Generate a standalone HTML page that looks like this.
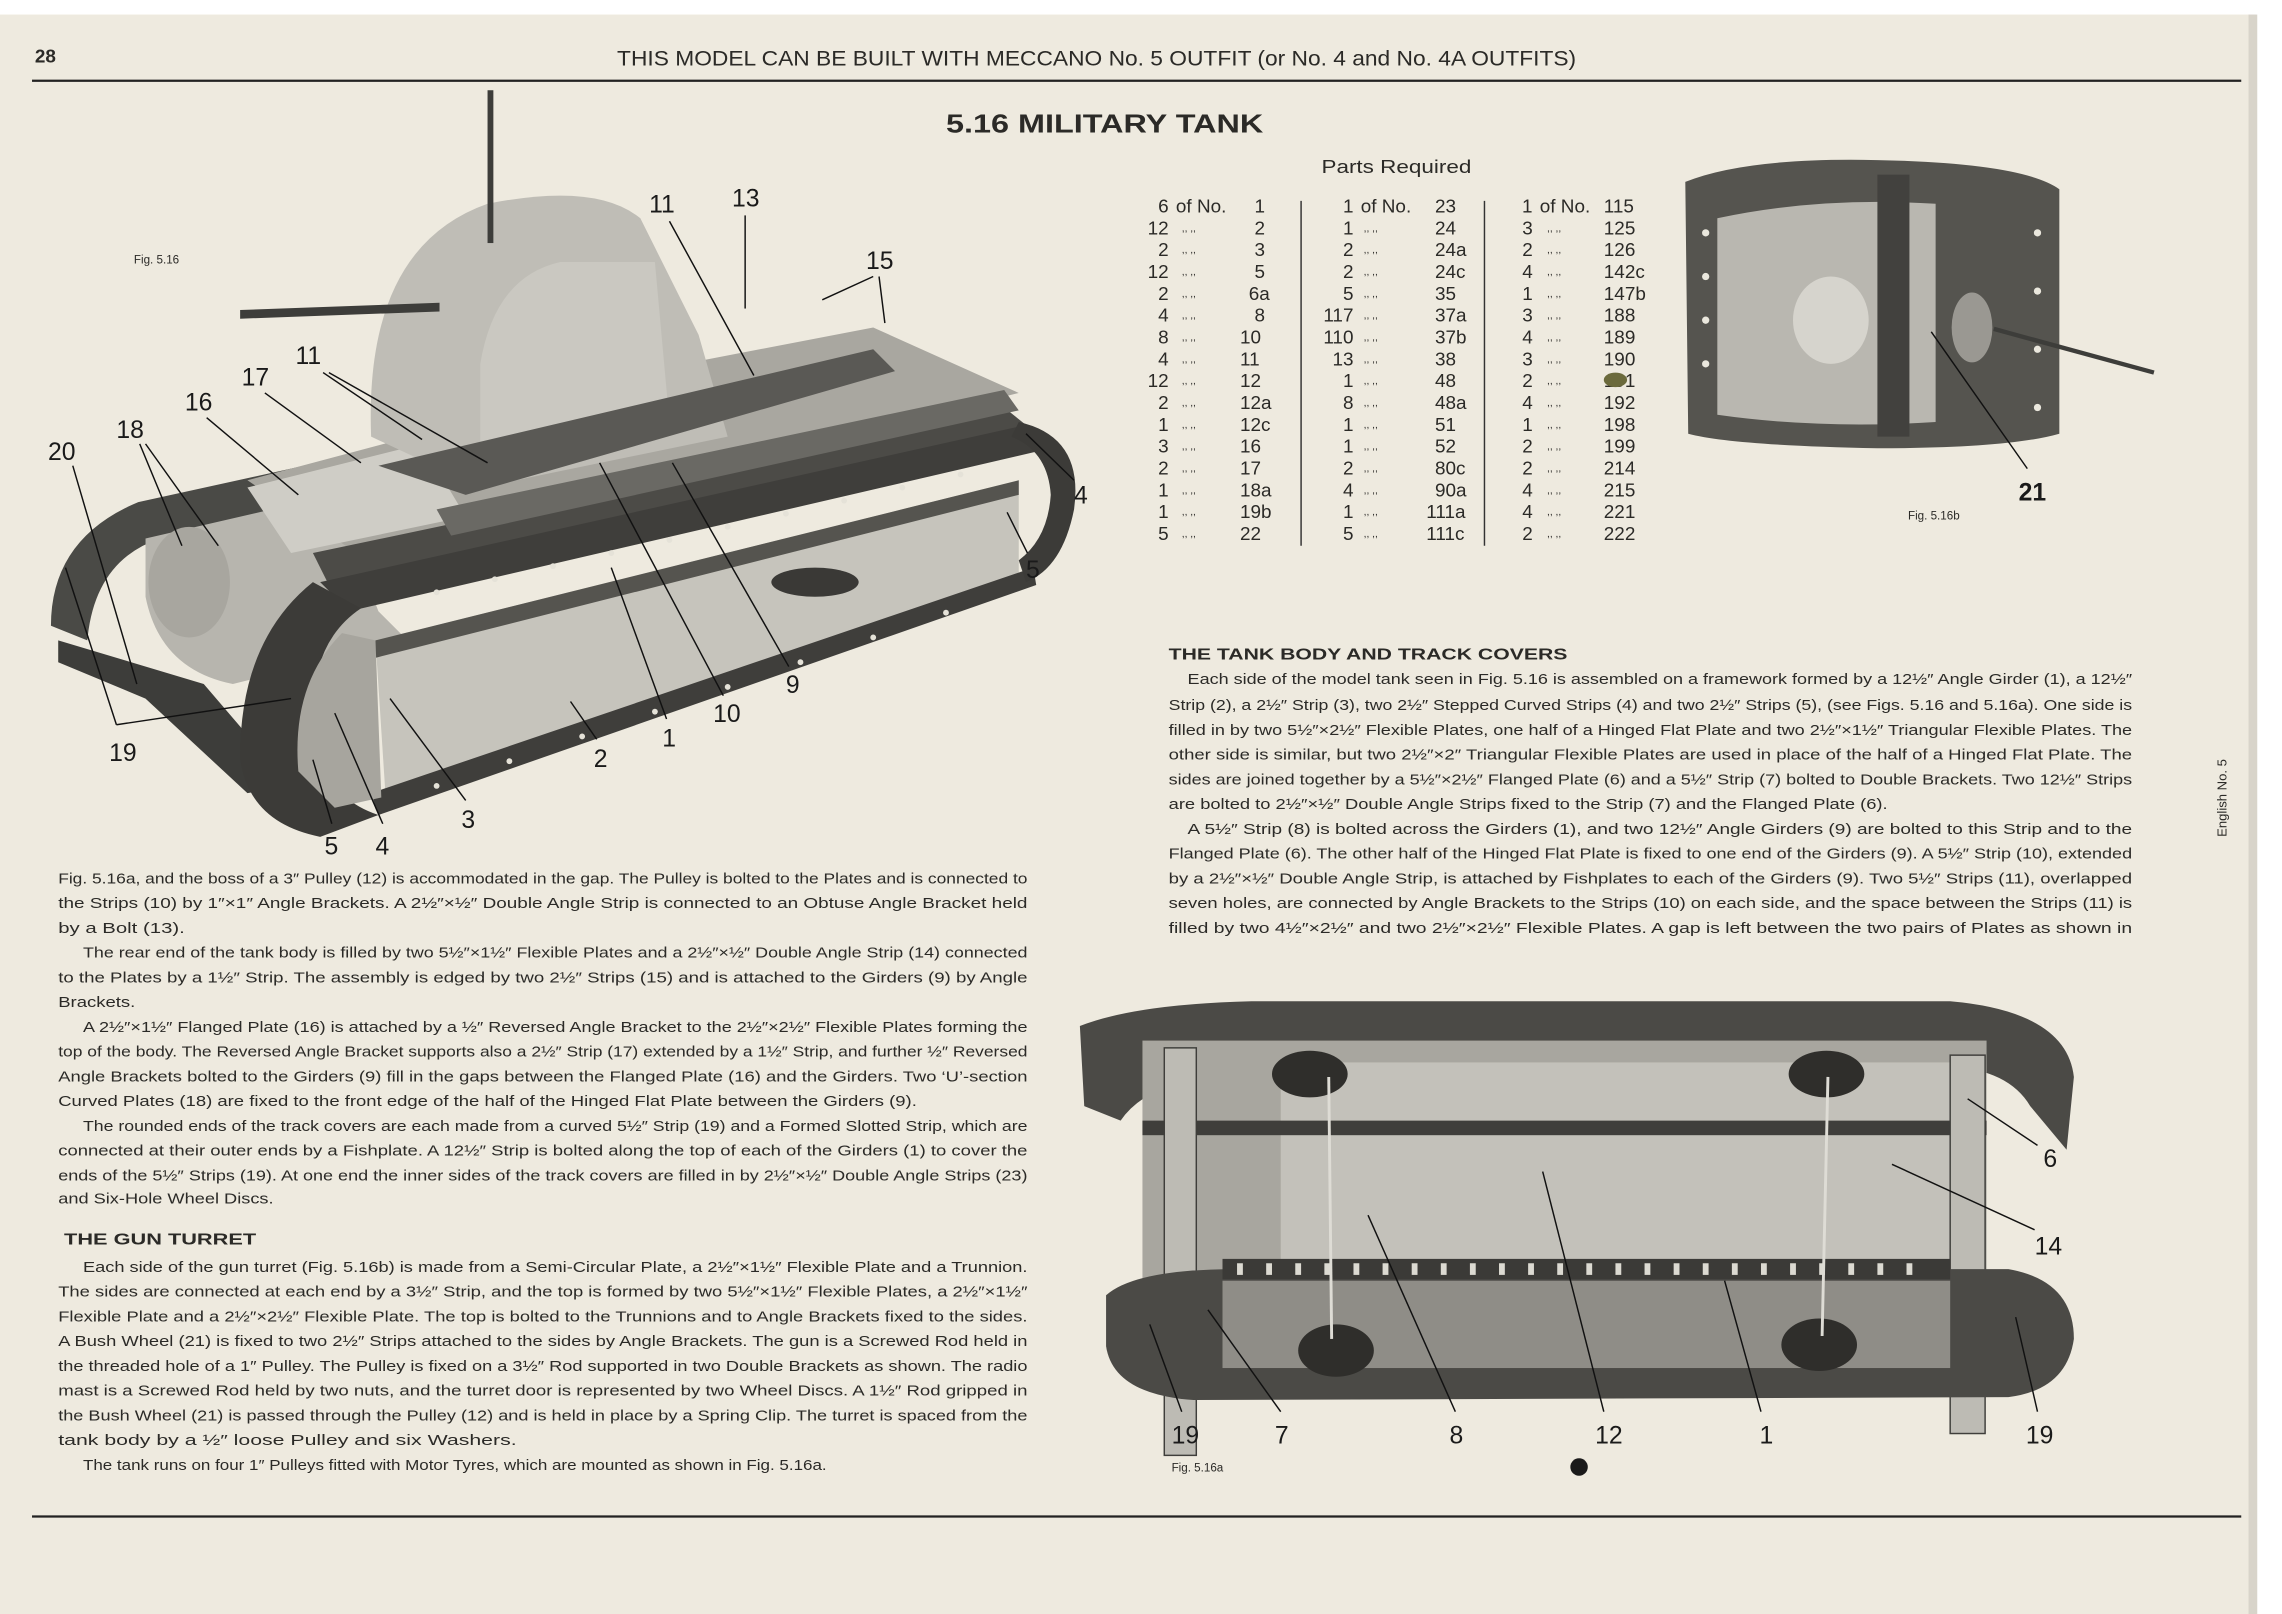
<!DOCTYPE html>
<html><head><meta charset="utf-8"><style>
html,body{margin:0;padding:0;background:#fff}
svg{display:block}
text{font-family:"Liberation Sans",sans-serif;fill:#2b2a27}
.t{font-size:10.2px}
.b{font-weight:bold}
.p{font-size:13px}
.n{font-size:17px;fill:#1a1a1a}
</style></head><body>
<svg width="2282" height="1614" viewBox="0 0 1568 1109" xmlns="http://www.w3.org/2000/svg">
<rect x="0" y="0" width="1568" height="1109" fill="#ffffff"/>
<rect x="0" y="10" width="1550" height="1099" fill="#eeeadf"/>
<rect x="1545" y="10" width="6" height="1099" fill="#d8d4ca"/>
<!-- header -->
<text x="24" y="43" class="b" style="font-size:13px">28</text>
<text x="424" y="45" style="font-size:14.5px" textLength="659" lengthAdjust="spacingAndGlyphs">THIS MODEL CAN BE BUILT WITH MECCANO No. 5 OUTFIT (or No. 4 and No. 4A OUTFITS)</text>
<line x1="22" y1="55.5" x2="1540" y2="55.5" stroke="#222" stroke-width="1.5"/>
<line x1="22" y1="1042" x2="1540" y2="1042" stroke="#222" stroke-width="1.5"/>
<text x="650" y="91" class="b" style="font-size:18px" textLength="218" lengthAdjust="spacingAndGlyphs">5.16  MILITARY TANK</text>
<text x="1530" y="575" style="font-size:9px" transform="rotate(-90 1530 575)">English No. 5</text>

<!-- Parts table -->
<text x="908" y="119" class="p" textLength="103" lengthAdjust="spacingAndGlyphs">Parts Required</text>
<line x1="894" y1="138" x2="894" y2="375" stroke="#333" stroke-width="1"/>
<line x1="1020" y1="138" x2="1020" y2="375" stroke="#333" stroke-width="1"/>
<text x="803" y="146" text-anchor="end" class="p">6</text><text x="808" y="146" class="p">of No.</text>
<text x="930" y="146" text-anchor="end" class="p">1</text><text x="935" y="146" class="p">of No.</text>
<text x="1053" y="146" text-anchor="end" class="p">1</text><text x="1058" y="146" class="p">of No.</text>
<g>
<text x="803" y="161" text-anchor="end" class="p">12</text>
<text x="803" y="176" text-anchor="end" class="p">2</text>
<text x="803" y="191" text-anchor="end" class="p">12</text>
<text x="803" y="206" text-anchor="end" class="p">2</text>
<text x="803" y="221" text-anchor="end" class="p">4</text>
<text x="803" y="236" text-anchor="end" class="p">8</text>
<text x="803" y="251" text-anchor="end" class="p">4</text>
<text x="803" y="266" text-anchor="end" class="p">12</text>
<text x="803" y="281" text-anchor="end" class="p">2</text>
<text x="803" y="296" text-anchor="end" class="p">1</text>
<text x="803" y="311" text-anchor="end" class="p">3</text>
<text x="803" y="326" text-anchor="end" class="p">2</text>
<text x="803" y="341" text-anchor="end" class="p">1</text>
<text x="803" y="356" text-anchor="end" class="p">1</text>
<text x="803" y="371" text-anchor="end" class="p">5</text>
</g>
<g style="font-size:7px">
<text x="812" y="159">,,        ,,</text><text x="812" y="174">,,        ,,</text><text x="812" y="189">,,        ,,</text><text x="812" y="204">,,        ,,</text><text x="812" y="219">,,        ,,</text><text x="812" y="234">,,        ,,</text><text x="812" y="249">,,        ,,</text><text x="812" y="264">,,        ,,</text><text x="812" y="279">,,        ,,</text><text x="812" y="294">,,        ,,</text><text x="812" y="309">,,        ,,</text><text x="812" y="324">,,        ,,</text><text x="812" y="339">,,        ,,</text><text x="812" y="354">,,        ,,</text><text x="812" y="369">,,        ,,</text>
<text x="937" y="159">,,        ,,</text><text x="937" y="174">,,        ,,</text><text x="937" y="189">,,        ,,</text><text x="937" y="204">,,        ,,</text><text x="937" y="219">,,        ,,</text><text x="937" y="234">,,        ,,</text><text x="937" y="249">,,        ,,</text><text x="937" y="264">,,        ,,</text><text x="937" y="279">,,        ,,</text><text x="937" y="294">,,        ,,</text><text x="937" y="309">,,        ,,</text><text x="937" y="324">,,        ,,</text><text x="937" y="339">,,        ,,</text><text x="937" y="354">,,        ,,</text><text x="937" y="369">,,        ,,</text>
<text x="1063" y="159">,,       ,,</text><text x="1063" y="174">,,       ,,</text><text x="1063" y="189">,,       ,,</text><text x="1063" y="204">,,       ,,</text><text x="1063" y="219">,,       ,,</text><text x="1063" y="234">,,       ,,</text><text x="1063" y="249">,,       ,,</text><text x="1063" y="264">,,       ,,</text><text x="1063" y="279">,,       ,,</text><text x="1063" y="294">,,       ,,</text><text x="1063" y="309">,,       ,,</text><text x="1063" y="324">,,       ,,</text><text x="1063" y="339">,,       ,,</text><text x="1063" y="354">,,       ,,</text><text x="1063" y="369">,,       ,,</text>
</g>
<g>
<text x="862" y="146" class="p">1</text><text x="862" y="161" class="p">2</text><text x="862" y="176" class="p">3</text><text x="862" y="191" class="p">5</text><text x="858" y="206" class="p">6a</text><text x="862" y="221" class="p">8</text><text x="852" y="236" class="p">10</text><text x="852" y="251" class="p">11</text><text x="852" y="266" class="p">12</text><text x="852" y="281" class="p">12a</text><text x="852" y="296" class="p">12c</text><text x="852" y="311" class="p">16</text><text x="852" y="326" class="p">17</text><text x="852" y="341" class="p">18a</text><text x="852" y="356" class="p">19b</text><text x="852" y="371" class="p">22</text>
</g>
<g>
<text x="930" y="161" text-anchor="end" class="p">1</text><text x="930" y="176" text-anchor="end" class="p">2</text><text x="930" y="191" text-anchor="end" class="p">2</text><text x="930" y="206" text-anchor="end" class="p">5</text><text x="930" y="221" text-anchor="end" class="p">117</text><text x="930" y="236" text-anchor="end" class="p">110</text><text x="930" y="251" text-anchor="end" class="p">13</text><text x="930" y="266" text-anchor="end" class="p">1</text><text x="930" y="281" text-anchor="end" class="p">8</text><text x="930" y="296" text-anchor="end" class="p">1</text><text x="930" y="311" text-anchor="end" class="p">1</text><text x="930" y="326" text-anchor="end" class="p">2</text><text x="930" y="341" text-anchor="end" class="p">4</text><text x="930" y="356" text-anchor="end" class="p">1</text><text x="930" y="371" text-anchor="end" class="p">5</text>
<text x="986" y="146" class="p">23</text><text x="986" y="161" class="p">24</text><text x="986" y="176" class="p">24a</text><text x="986" y="191" class="p">24c</text><text x="986" y="206" class="p">35</text><text x="986" y="221" class="p">37a</text><text x="986" y="236" class="p">37b</text><text x="986" y="251" class="p">38</text><text x="986" y="266" class="p">48</text><text x="986" y="281" class="p">48a</text><text x="986" y="296" class="p">51</text><text x="986" y="311" class="p">52</text><text x="986" y="326" class="p">80c</text><text x="986" y="341" class="p">90a</text><text x="980" y="356" class="p">111a</text><text x="980" y="371" class="p">111c</text>
</g>
<g>
<text x="1046" y="161" class="p">3</text><text x="1046" y="176" class="p">2</text><text x="1046" y="191" class="p">4</text><text x="1046" y="206" class="p">1</text><text x="1046" y="221" class="p">3</text><text x="1046" y="236" class="p">4</text><text x="1046" y="251" class="p">3</text><text x="1046" y="266" class="p">2</text><text x="1046" y="281" class="p">4</text><text x="1046" y="296" class="p">1</text><text x="1046" y="311" class="p">2</text><text x="1046" y="326" class="p">2</text><text x="1046" y="341" class="p">4</text><text x="1046" y="356" class="p">4</text><text x="1046" y="371" class="p">2</text>
<text x="1102" y="146" class="p">115</text><text x="1102" y="161" class="p">125</text><text x="1102" y="176" class="p">126</text><text x="1102" y="191" class="p">142c</text><text x="1102" y="206" class="p">147b</text><text x="1102" y="221" class="p">188</text><text x="1102" y="236" class="p">189</text><text x="1102" y="251" class="p">190</text><text x="1102" y="266" class="p">191</text><text x="1102" y="281" class="p">192</text><text x="1102" y="296" class="p">198</text><text x="1102" y="311" class="p">199</text><text x="1102" y="326" class="p">214</text><text x="1102" y="341" class="p">215</text><text x="1102" y="356" class="p">221</text><text x="1102" y="371" class="p">222</text>
</g>
<ellipse cx="1110" cy="261" rx="8" ry="5" fill="#6b6a3c"/>

<!-- Right body text -->
<text x="803" y="453" class="b" style="font-size:11px" textLength="274" lengthAdjust="spacingAndGlyphs">THE TANK BODY AND TRACK COVERS</text>
<g class="t">
<text x="816" y="470" textLength="649" lengthAdjust="spacingAndGlyphs">Each side of the model tank seen in Fig. 5.16 is assembled on a framework formed by a 12½″ Angle Girder (1), a 12½″</text>
<text x="803" y="488" textLength="662" lengthAdjust="spacingAndGlyphs">Strip (2), a 2½″ Strip (3), two 2½″ Stepped Curved Strips (4) and two 2½″ Strips (5), (see Figs. 5.16 and 5.16a). One side is</text>
<text x="803" y="505" textLength="662" lengthAdjust="spacingAndGlyphs">filled in by two 5½″×2½″ Flexible Plates, one half of a Hinged Flat Plate and two 2½″×1½″ Triangular Flexible Plates. The</text>
<text x="803" y="522" textLength="662" lengthAdjust="spacingAndGlyphs">other side is similar, but two 2½″×2″ Triangular Flexible Plates are used in place of the half of a Hinged Flat Plate. The</text>
<text x="803" y="539" textLength="662" lengthAdjust="spacingAndGlyphs">sides are joined together by a 5½″×2½″ Flanged Plate (6) and a 5½″ Strip (7) bolted to Double Brackets.  Two 12½″ Strips</text>
<text x="803" y="556" textLength="494" lengthAdjust="spacingAndGlyphs">are bolted to 2½″×½″ Double Angle Strips fixed to the Strip (7) and the Flanged Plate (6).</text>
<text x="816" y="573" textLength="649" lengthAdjust="spacingAndGlyphs">A 5½″ Strip (8) is bolted across the Girders (1), and two 12½″ Angle Girders (9) are bolted to this Strip and to the</text>
<text x="803" y="590" textLength="662" lengthAdjust="spacingAndGlyphs">Flanged Plate (6). The other half of the Hinged Flat Plate is fixed to one end of the Girders (9). A 5½″ Strip (10), extended</text>
<text x="803" y="607" textLength="662" lengthAdjust="spacingAndGlyphs">by a 2½″×½″ Double Angle Strip, is attached by Fishplates to each of the Girders (9). Two 5½″ Strips (11), overlapped</text>
<text x="803" y="624" textLength="662" lengthAdjust="spacingAndGlyphs">seven holes, are connected by Angle Brackets to the Strips (10) on each side, and the space between the Strips (11) is</text>
<text x="803" y="641" textLength="662" lengthAdjust="spacingAndGlyphs">filled by two 4½″×2½″ and two 2½″×2½″ Flexible Plates. A gap is left between the two pairs of Plates as shown in</text>
</g>

<!-- Left text -->
<g class="t">
<text x="40" y="607" textLength="666" lengthAdjust="spacingAndGlyphs">Fig. 5.16a, and the boss of a 3″ Pulley (12) is accommodated in the gap. The Pulley is bolted to the Plates and is connected to</text>
<text x="40" y="624" textLength="666" lengthAdjust="spacingAndGlyphs">the Strips (10) by 1″×1″ Angle Brackets.  A 2½″×½″ Double Angle Strip is connected to an Obtuse Angle Bracket held</text>
<text x="40" y="641" textLength="87" lengthAdjust="spacingAndGlyphs">by a Bolt (13).</text>
<text x="57" y="658" textLength="649" lengthAdjust="spacingAndGlyphs">The rear end of the tank body is filled by two 5½″×1½″ Flexible Plates and a 2½″×½″ Double Angle Strip (14) connected</text>
<text x="40" y="675" textLength="666" lengthAdjust="spacingAndGlyphs">to the Plates by a 1½″ Strip. The assembly is edged by two 2½″ Strips (15) and is attached to the Girders (9) by Angle</text>
<text x="40" y="692" textLength="53" lengthAdjust="spacingAndGlyphs">Brackets.</text>
<text x="57" y="709" textLength="649" lengthAdjust="spacingAndGlyphs">A 2½″×1½″ Flanged Plate (16) is attached by a ½″ Reversed Angle Bracket to the 2½″×2½″ Flexible Plates forming the</text>
<text x="40" y="726" textLength="666" lengthAdjust="spacingAndGlyphs">top of the body. The Reversed Angle Bracket supports also a 2½″ Strip (17) extended by a 1½″ Strip, and further ½″ Reversed</text>
<text x="40" y="743" textLength="666" lengthAdjust="spacingAndGlyphs">Angle Brackets bolted to the Girders (9) fill in the gaps between the Flanged Plate (16) and the Girders. Two ‘U’-section</text>
<text x="40" y="760" textLength="590" lengthAdjust="spacingAndGlyphs">Curved Plates (18) are fixed to the front edge of the half of the Hinged Flat Plate between the Girders (9).</text>
<text x="57" y="777" textLength="649" lengthAdjust="spacingAndGlyphs">The rounded ends of the track covers are each made from a curved 5½″ Strip (19) and a Formed Slotted Strip, which are</text>
<text x="40" y="794" textLength="666" lengthAdjust="spacingAndGlyphs">connected at their outer ends by a Fishplate. A 12½″ Strip is bolted along the top of each of the Girders (1) to cover the</text>
<text x="40" y="811" textLength="666" lengthAdjust="spacingAndGlyphs">ends of the 5½″ Strips (19).  At one end the inner sides of the track covers are filled in by 2½″×½″ Double Angle Strips (23)</text>
<text x="40" y="827" textLength="148" lengthAdjust="spacingAndGlyphs">and Six-Hole Wheel Discs.</text>
<text x="44" y="855" class="b" style="font-size:11px" textLength="132" lengthAdjust="spacingAndGlyphs">THE GUN TURRET</text>
<text x="57" y="874" textLength="649" lengthAdjust="spacingAndGlyphs">Each side of the gun turret (Fig. 5.16b) is made from a Semi-Circular Plate, a 2½″×1½″ Flexible Plate and a Trunnion.</text>
<text x="40" y="891" textLength="666" lengthAdjust="spacingAndGlyphs">The sides are connected at each end by a 3½″ Strip, and the top is formed by two 5½″×1½″ Flexible Plates, a 2½″×1½″</text>
<text x="40" y="908" textLength="666" lengthAdjust="spacingAndGlyphs">Flexible Plate and a 2½″×2½″ Flexible Plate. The top is bolted to the Trunnions and to Angle Brackets fixed to the sides.</text>
<text x="40" y="925" textLength="666" lengthAdjust="spacingAndGlyphs">A Bush Wheel (21) is fixed to two 2½″ Strips attached to the sides by Angle Brackets. The gun is a Screwed Rod held in</text>
<text x="40" y="942" textLength="666" lengthAdjust="spacingAndGlyphs">the threaded hole of a 1″ Pulley. The Pulley is fixed on a 3½″ Rod supported in two Double Brackets as shown. The radio</text>
<text x="40" y="959" textLength="666" lengthAdjust="spacingAndGlyphs">mast is a Screwed Rod held by two nuts, and the turret door is represented by two Wheel Discs. A 1½″ Rod gripped in</text>
<text x="40" y="976" textLength="666" lengthAdjust="spacingAndGlyphs">the Bush Wheel (21) is passed through the Pulley (12) and is held in place by a Spring Clip. The turret is spaced from the</text>
<text x="40" y="993" textLength="315" lengthAdjust="spacingAndGlyphs">tank body by a ½″ loose Pulley and six Washers.</text>
<text x="57" y="1010" textLength="511" lengthAdjust="spacingAndGlyphs">The tank runs on four 1″ Pulleys fitted with Motor Tyres, which are mounted as shown in Fig. 5.16a.</text>
</g>

<!-- Main tank illustration -->
<g>
<text x="92" y="181" style="font-size:8px">Fig. 5.16</text>
<path d="M35,430 Q35,370 95,345 L300,300 L310,320 L110,370 Q65,385 60,440 Z" fill="#4a4a46"/>
<path d="M40,440 L140,470 L200,540 L170,545 L100,480 L40,455 Z" fill="#3d3d3a"/>
<path d="M100,370 L230,340 L260,420 L280,440 L160,470 Q110,460 100,410 Z" fill="#b7b5ae"/>
<ellipse cx="130" cy="400" rx="28" ry="38" fill="#a8a69f"/>
<path d="M170,330 L470,250 L600,225 L700,270 L420,340 L260,390 Z" fill="#a9a7a0"/>
<path d="M170,335 L290,305 L320,355 L200,380 Z" fill="#cfcdc6"/>
<path d="M255,300 Q250,170 335,140 Q410,125 440,150 L480,230 L500,300 L330,335 Z" fill="#bfbdb6"/>
<path d="M330,250 Q340,190 385,180 L450,180 L460,290 L330,310 Z" fill="#cac8c1"/>
<rect x="335" y="62" width="4" height="105" fill="#3d3d3a"/>
<path d="M165,213 L302,208 L302,214 L165,219 Z" fill="#3d3d3a"/>
<path d="M260,320 L600,240 L615,255 L320,340 Z" fill="#5a5955"/>
<path d="M215,380 L690,280 L715,300 L230,410 Z" fill="#4c4b47"/>
<path d="M300,350 L690,268 L700,282 L310,368 Z" fill="#6a6964"/>
<path d="M220,400 L705,292 L722,308 L240,420 Z" fill="#3f3e3b"/>
<path d="M258,440 L700,330 L700,395 L265,548 Z" fill="#c6c4bc"/>
<path d="M258,440 L700,330 L700,340 L258,452 Z" fill="#55544f"/>
<path d="M255,545 L710,390 L712,402 L260,560 Z" fill="#3f3e3b"/>
<path d="M215,400 Q165,440 165,520 Q170,565 220,575 L260,560 Q215,545 215,490 Q215,440 248,418 Z" fill="#3c3b38"/>
<path d="M235,435 Q200,470 205,530 L230,555 L262,548 L258,440 Z" fill="#a7a59e"/>
<path d="M700,290 Q745,300 738,350 Q730,390 705,400 L700,385 Q720,370 722,340 Q720,310 695,300 Z" fill="#3c3b38"/>
<g fill="#e5e2d8">
<circle cx="300" cy="407" r="2"/><circle cx="340" cy="398" r="2"/><circle cx="380" cy="389" r="2"/><circle cx="420" cy="380" r="2"/><circle cx="460" cy="371" r="2"/><circle cx="500" cy="362" r="2"/><circle cx="540" cy="353" r="2"/><circle cx="580" cy="344" r="2"/><circle cx="620" cy="335" r="2"/><circle cx="660" cy="326" r="2"/>
<circle cx="300" cy="540" r="2"/><circle cx="350" cy="523" r="2"/><circle cx="400" cy="506" r="2"/><circle cx="450" cy="489" r="2"/><circle cx="500" cy="472" r="2"/><circle cx="550" cy="455" r="2"/><circle cx="600" cy="438" r="2"/><circle cx="650" cy="421" r="2"/>
</g>
<ellipse cx="560" cy="400" rx="30" ry="10" fill="#3a3936"/>
</g>
<g stroke="#111" stroke-width="1" fill="none">
<line x1="460" y1="152" x2="518" y2="258"/>
<line x1="512" y1="148" x2="512" y2="212"/>
<line x1="600" y1="190" x2="565" y2="206"/><line x1="604" y1="190" x2="608" y2="222"/>
<line x1="222" y1="256" x2="290" y2="302"/><line x1="226" y1="256" x2="335" y2="318"/>
<line x1="182" y1="270" x2="248" y2="318"/>
<line x1="142" y1="287" x2="205" y2="340"/>
<line x1="96" y1="305" x2="125" y2="375"/><line x1="100" y1="305" x2="150" y2="375"/>
<line x1="50" y1="320" x2="94" y2="470"/>
<line x1="80" y1="498" x2="45" y2="390"/><line x1="80" y1="498" x2="200" y2="480"/>
<line x1="738" y1="330" x2="705" y2="298"/>
<line x1="706" y1="380" x2="692" y2="352"/>
<line x1="542" y1="458" x2="462" y2="318"/>
<line x1="497" y1="478" x2="412" y2="318"/>
<line x1="458" y1="494" x2="420" y2="390"/>
<line x1="410" y1="508" x2="392" y2="482"/>
<line x1="320" y1="550" x2="268" y2="480"/>
<line x1="228" y1="566" x2="215" y2="522"/>
<line x1="263" y1="566" x2="230" y2="490"/>
</g>
<g>
<text x="446" y="146" class="n">11</text><text x="503" y="142" class="n">13</text><text x="595" y="185" class="n">15</text>
<text x="203" y="250" class="n">11</text><text x="166" y="265" class="n">17</text><text x="127" y="282" class="n">16</text>
<text x="80" y="301" class="n">18</text><text x="33" y="316" class="n">20</text><text x="738" y="346" class="n">4</text>
<text x="705" y="397" class="n">5</text><text x="540" y="476" class="n">9</text><text x="490" y="496" class="n">10</text>
<text x="455" y="513" class="n">1</text><text x="408" y="527" class="n">2</text><text x="317" y="569" class="n">3</text>
<text x="223" y="587" class="n">5</text><text x="258" y="587" class="n">4</text><text x="75" y="523" class="n">19</text>
</g>

<!-- Turret fig 5.16b -->
<g>
<path d="M1158,125 Q1200,108 1290,110 Q1390,112 1415,130 L1415,298 Q1380,308 1290,308 Q1190,306 1160,298 Z" fill="#55544f"/>
<path d="M1180,150 Q1250,135 1330,140 L1330,290 Q1250,295 1180,285 Z" fill="#b9b7b0"/>
<rect x="1290" y="120" width="22" height="180" fill="#42413e"/>
<ellipse cx="1258" cy="220" rx="26" ry="30" fill="#d6d4cd"/>
<ellipse cx="1355" cy="225" rx="14" ry="24" fill="#9a9892"/>
<line x1="1370" y1="226" x2="1480" y2="256" stroke="#3d3d3a" stroke-width="3"/>
<g fill="#eae7dd"><circle cx="1172" cy="160" r="2.5"/><circle cx="1172" cy="190" r="2.5"/><circle cx="1172" cy="220" r="2.5"/><circle cx="1172" cy="250" r="2.5"/><circle cx="1400" cy="160" r="2.5"/><circle cx="1400" cy="200" r="2.5"/><circle cx="1400" cy="240" r="2.5"/><circle cx="1400" cy="280" r="2.5"/></g>
<line x1="1393" y1="322" x2="1327" y2="228" stroke="#111" stroke-width="1"/>
<text x="1387" y="344" class="n" style="font-weight:bold">21</text>
<text x="1311" y="357" style="font-size:8px">Fig. 5.16b</text>
</g>

<!-- Bottom fig 5.16a -->
<g>
<path d="M742,705 Q780,690 860,688 L1340,688 Q1420,695 1425,740 L1420,790 L1395,760 Q1380,735 1340,733 L860,735 Q790,740 770,770 L745,760 Z" fill="#4b4a46"/>
<rect x="785" y="715" width="580" height="210" fill="#a8a69f"/>
<rect x="880" y="730" width="470" height="150" fill="#c3c1ba"/>
<rect x="785" y="770" width="580" height="10" fill="#3f3e3b"/>
<rect x="800" y="720" width="22" height="280" fill="#bdbbb4" stroke="#3f3e3b"/>
<rect x="1340" y="725" width="24" height="260" fill="#bdbbb4" stroke="#3f3e3b"/>
<path d="M760,890 Q780,872 850,872 L1380,872 Q1425,880 1425,920 Q1420,955 1380,960 L820,962 Q765,958 760,925 Z" fill="#4b4a46"/>
<rect x="840" y="880" width="500" height="60" fill="#8f8d87"/>
<rect x="840" y="865" width="500" height="14" fill="#3b3a37"/>
<g fill="#dcdad2"><rect x="850" y="868" width="4" height="8"/><rect x="870" y="868" width="4" height="8"/><rect x="890" y="868" width="4" height="8"/><rect x="910" y="868" width="4" height="8"/><rect x="930" y="868" width="4" height="8"/><rect x="950" y="868" width="4" height="8"/><rect x="970" y="868" width="4" height="8"/><rect x="990" y="868" width="4" height="8"/><rect x="1010" y="868" width="4" height="8"/><rect x="1030" y="868" width="4" height="8"/><rect x="1050" y="868" width="4" height="8"/><rect x="1070" y="868" width="4" height="8"/><rect x="1090" y="868" width="4" height="8"/><rect x="1110" y="868" width="4" height="8"/><rect x="1130" y="868" width="4" height="8"/><rect x="1150" y="868" width="4" height="8"/><rect x="1170" y="868" width="4" height="8"/><rect x="1190" y="868" width="4" height="8"/><rect x="1210" y="868" width="4" height="8"/><rect x="1230" y="868" width="4" height="8"/><rect x="1250" y="868" width="4" height="8"/><rect x="1270" y="868" width="4" height="8"/><rect x="1290" y="868" width="4" height="8"/><rect x="1310" y="868" width="4" height="8"/></g>
<ellipse cx="900" cy="738" rx="26" ry="16" fill="#2f2e2b"/><ellipse cx="1255" cy="738" rx="26" ry="16" fill="#2f2e2b"/>
<ellipse cx="918" cy="928" rx="26" ry="18" fill="#2f2e2b"/><ellipse cx="1250" cy="924" rx="26" ry="18" fill="#2f2e2b"/>
<line x1="913" y1="740" x2="915" y2="920" stroke="#dedcd5" stroke-width="2"/>
<line x1="1256" y1="740" x2="1252" y2="918" stroke="#dedcd5" stroke-width="2"/>
</g>
<g stroke="#111" stroke-width="1">
<line x1="1400" y1="787" x2="1352" y2="755"/><line x1="1398" y1="845" x2="1300" y2="800"/>
<line x1="812" y1="970" x2="790" y2="910"/><line x1="880" y1="970" x2="830" y2="900"/>
<line x1="1000" y1="970" x2="940" y2="835"/><line x1="1102" y1="970" x2="1060" y2="805"/>
<line x1="1210" y1="970" x2="1185" y2="880"/><line x1="1400" y1="970" x2="1385" y2="905"/>
</g>
<g>
<text x="1404" y="802" class="n">6</text><text x="1398" y="862" class="n">14</text>
<text x="805" y="992" class="n">19</text><text x="876" y="992" class="n">7</text><text x="996" y="992" class="n">8</text>
<text x="1096" y="992" class="n">12</text><text x="1209" y="992" class="n">1</text><text x="1392" y="992" class="n">19</text>
<text x="805" y="1011" style="font-size:8px">Fig. 5.16a</text>
<circle cx="1085" cy="1008" r="6" fill="#1a1a1a"/>
</g>
</svg>
</body></html>
